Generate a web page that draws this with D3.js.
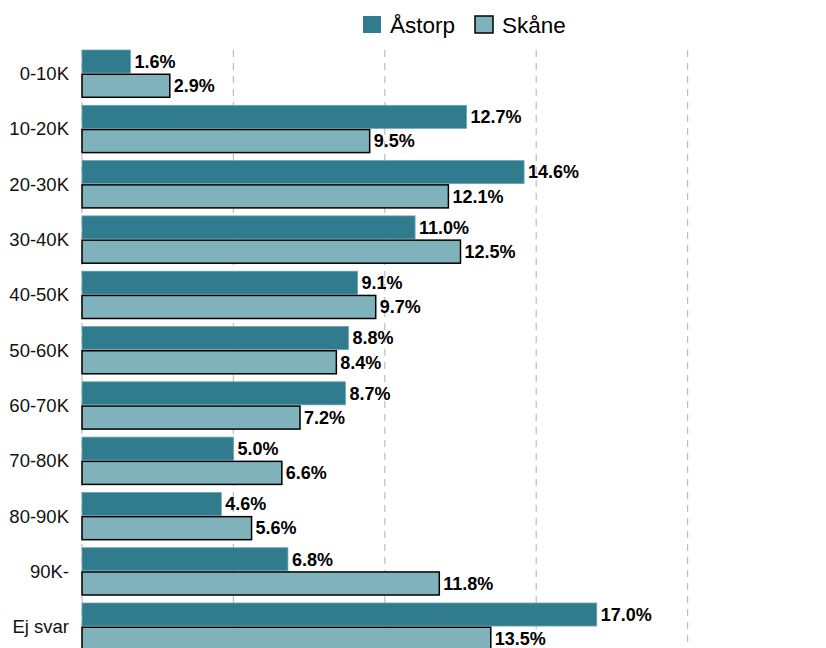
<!DOCTYPE html>
<html>
<head>
<meta charset="utf-8">
<script src="https://cdn.jsdelivr.net/npm/d3@7/dist/d3.min.js"></script>
<style>
  body { margin: 0; background: #fff; }
  svg { display: block; font-family: "Liberation Sans", Arial, sans-serif; }
</style>
</head>
<body>
<svg width="826" height="648"></svg>
<script>
// data
var categories = ["0-10K", "10-20K", "20-30K", "30-40K", "40-50K", "50-60K", "60-70K", "70-80K", "80-90K", "90K-", "Ej svar"];
var seriesNames = ["Åstorp", "Skåne"];
var astorp = [1.6, 12.7, 14.6, 11.0, 9.1, 8.8, 8.7, 5.0, 4.6, 6.8, 17.0];
var skane = [2.9, 9.5, 12.1, 12.5, 9.7, 8.4, 7.2, 6.6, 5.6, 11.8, 13.5];
var gridTicks = [0, 5, 10, 15, 20];

var colors = { "Åstorp": "#307b8d", "Skåne": "#7fb2bb" };
var strokes = { "Åstorp": "#6aa5b3", "Skåne": "#000" };

var svg = d3.select("svg");

var data = categories.map(function (c, i) {
    return { cat: c, values: [
        { key: "Åstorp", v: astorp[i] },
        { key: "Skåne", v: skane[i] }
    ] };
});

var x = d3.scaleLinear().domain([0, 25]).range([82, 839]);

var y0 = d3.scaleBand()
    .domain(categories)
    .range([46, 654.3])
    .paddingInner(0.145)
    .paddingOuter(0.0725);

var y1 = d3.scaleBand()
    .domain(seriesNames)
    .range([0, y0.bandwidth()])
    .paddingInner(0.05);

// dashed grid
svg.append("g").selectAll("line")
    .data(gridTicks)
    .enter().append("line")
    .attr("x1", function (d) { return x(d); })
    .attr("x2", function (d) { return x(d); })
    .attr("y1", 50)
    .attr("y2", 648)
    .attr("stroke", "#bdbdbd")
    .attr("stroke-width", 1.2)
    .attr("stroke-dasharray", "7,6");

// category labels
svg.append("g").selectAll("text")
    .data(categories)
    .enter().append("text")
    .attr("x", 69)
    .attr("y", function (d) { return y0(d) + y0.bandwidth() / 2; })
    .attr("dy", "0.35em")
    .attr("text-anchor", "end")
    .attr("font-size", 18.5)
    .attr("fill", "#111")
    .text(function (d) { return d; });

var groups = svg.append("g").selectAll("g")
    .data(data)
    .enter().append("g")
    .attr("transform", function (d) { return "translate(0," + y0(d.cat) + ")"; });

groups.selectAll("rect")
    .data(function (d) { return d.values; })
    .enter().append("rect")
    .attr("x", x(0))
    .attr("y", function (d) { return y1(d.key); })
    .attr("width", function (d) { return x(d.v) - x(0); })
    .attr("height", y1.bandwidth())
    .attr("fill", function (d) { return colors[d.key]; })
    .attr("stroke", function (d) { return strokes[d.key]; })
    .attr("stroke-width", function (d) { return d.key == "Skåne" ? 1.5 : 0.8; });

groups.selectAll("text")
    .data(function (d) { return d.values; })
    .enter().append("text")
    .attr("x", function (d) { return x(d.v) + 4; })
    .attr("y", function (d) { return y1(d.key) + y1.bandwidth() / 2; })
    .attr("dy", "0.35em")
    .attr("font-size", 18)
    .attr("font-weight", "bold")
    .attr("fill", "#000")
    .text(function (d) { return d.v.toFixed(1) + "%"; });

// legend
var legend = svg.append("g");
var legendX = [363, 475];
seriesNames.forEach(function (s, i) {
    legend.append("rect")
        .attr("x", legendX[i])
        .attr("y", 16)
        .attr("width", 18)
        .attr("height", 17)
        .attr("fill", colors[s])
        .attr("stroke", s == "Skåne" ? "#000" : "none")
        .attr("stroke-width", 1.5);
    legend.append("text")
        .attr("x", legendX[i] + 27)
        .attr("y", 33)
        .attr("font-size", 22.5)
        .attr("fill", "#000")
        .text(s);
});
</script>
</body>
</html>
